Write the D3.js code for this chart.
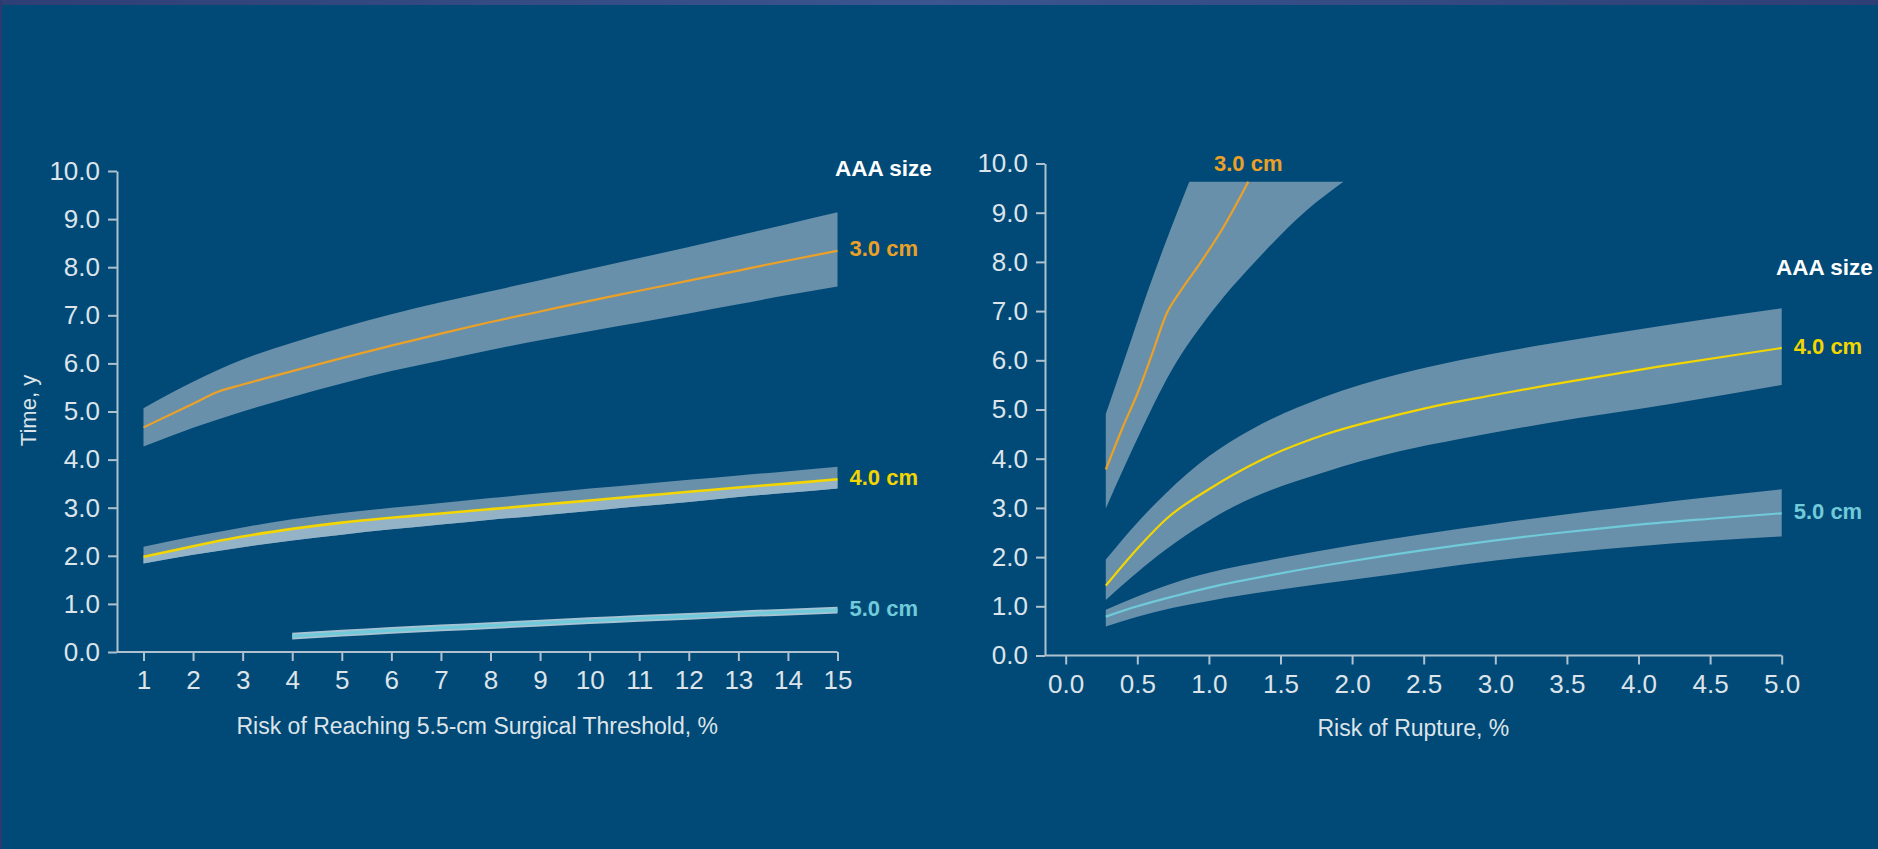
<!DOCTYPE html>
<html>
<head>
<meta charset="utf-8">
<script src="https://cdn.jsdelivr.net/npm/d3@7"></script>
<style>
  html, body { margin: 0; padding: 0; background: #014a77; overflow: hidden; }
  svg { display: block; }
  text { font-family: "Liberation Sans", Arial, Helvetica, sans-serif; }
</style>
</head>
<body>
<svg id="chart" width="1878" height="849"></svg>
<script>
// ---- tick values ----
const yTicks = [0, 1, 2, 3, 4, 5, 6, 7, 8, 9, 10];
const thresholdTicks = [1, 2, 3, 4, 5, 6, 7, 8, 9, 10, 11, 12, 13, 14, 15];
const ruptureTicks = [0, 0.5, 1, 1.5, 2, 2.5, 3, 3.5, 4, 4.5, 5];

// ---- left panel: time (y) vs risk of reaching the 5.5-cm surgical threshold (%) ----
const thr30X   = [1, 2, 2.5, 3, 4, 5, 6, 7, 8, 9, 10, 11, 12, 13, 14, 15];
const thr30Mid = [4.67, 5.16, 5.41, 5.56, 5.84, 6.11, 6.37, 6.62, 6.86, 7.08, 7.30, 7.51, 7.72, 7.93, 8.14, 8.34];
const thr30BandX = [1, 2, 3, 4, 5, 6, 7, 8, 9, 10, 11, 12, 13, 14, 15];
const thr30Up  = [5.07, 5.62, 6.08, 6.43, 6.74, 7.02, 7.27, 7.50, 7.73, 7.96, 8.19, 8.42, 8.66, 8.90, 9.14];
const thr30Lo  = [4.27, 4.66, 5.00, 5.30, 5.58, 5.84, 6.06, 6.28, 6.48, 6.67, 6.85, 7.04, 7.23, 7.42, 7.60];

const thr40X   = [1, 2, 3, 4, 5, 6, 7, 8, 9, 10, 11, 12, 13, 14, 15];
const thr40Mid = [1.98, 2.20, 2.40, 2.56, 2.69, 2.79, 2.88, 2.97, 3.06, 3.15, 3.24, 3.33, 3.42, 3.50, 3.59];
const thr40Up  = [2.19, 2.40, 2.59, 2.76, 2.89, 3.00, 3.10, 3.20, 3.30, 3.40, 3.49, 3.58, 3.67, 3.76, 3.85];
const thr40Lo  = [1.84, 2.02, 2.18, 2.32, 2.44, 2.55, 2.65, 2.75, 2.84, 2.93, 3.03, 3.12, 3.22, 3.31, 3.40];

const thr50X   = [4, 5, 6, 7, 8, 9, 10, 11, 12, 13, 14, 15];
const thr50Mid = [0.33, 0.39, 0.45, 0.50, 0.55, 0.60, 0.65, 0.70, 0.74, 0.79, 0.83, 0.87];
const thr50Up  = [0.40, 0.46, 0.52, 0.57, 0.62, 0.67, 0.72, 0.77, 0.81, 0.86, 0.90, 0.94];
const thr50Lo  = [0.26, 0.32, 0.38, 0.43, 0.48, 0.53, 0.58, 0.63, 0.67, 0.72, 0.76, 0.80];

// ---- right panel: time (y) vs risk of rupture (%) ----
const rup30MidX = [0.28, 0.40, 0.50, 0.60, 0.705, 0.80, 0.94, 1.10, 1.275];
const rup30Mid  = [3.78, 4.65, 5.32, 6.10, 6.95, 7.40, 7.98, 8.70, 9.63];
const rup30UpX  = [0.28, 0.426, 0.566, 0.705, 0.863];
const rup30Up   = [4.91, 6.15, 7.35, 8.45, 9.63];
const rup30LoX  = [0.28, 0.519, 0.729, 1.03, 1.357, 1.683, 1.939];
const rup30Lo   = [2.99, 4.52, 5.74, 7.02, 8.11, 9.05, 9.63];

const rup40MidX = [0.28, 0.50, 0.708, 1.0, 1.362, 1.80, 2.33, 2.58, 3.0, 3.36, 4.14, 5.0];
const rup40Mid  = [1.42, 2.17, 2.79, 3.38, 3.97, 4.48, 4.90, 5.07, 5.30, 5.49, 5.87, 6.25];
const rup40UpX  = [0.28, 0.50, 0.70, 1.0, 1.30, 1.80, 2.33, 2.75, 3.30, 4.20, 5.0];
const rup40Up   = [1.95, 2.70, 3.30, 4.05, 4.60, 5.25, 5.72, 6.00, 6.30, 6.72, 7.06];
const rup40LoX  = [0.28, 0.635, 1.175, 1.80, 2.33, 2.75, 3.36, 4.20, 5.0];
const rup40Lo   = [1.13, 2.01, 3.03, 3.72, 4.15, 4.40, 4.72, 5.10, 5.50];

const rup50X    = [0.28, 0.5, 0.75, 1.0, 1.5, 2.0, 2.5, 3.0, 3.5, 4.0, 4.5, 5.0];
const rup50Mid  = [0.79, 1.00, 1.20, 1.38, 1.67, 1.92, 2.14, 2.34, 2.51, 2.66, 2.78, 2.89];
const rup50Up   = [0.93, 1.20, 1.47, 1.68, 1.98, 2.24, 2.47, 2.68, 2.87, 3.05, 3.22, 3.38];
const rup50Lo   = [0.59, 0.79, 0.97, 1.11, 1.34, 1.54, 1.74, 1.93, 2.09, 2.22, 2.33, 2.42];

// ---- palette ----
const BG = "#014a77";
const BAND = "#6890ab";
const BAND_LIGHT = "#95b3c7";
const BAND_PALE = "#a8c4d4";
const ORANGE = "#eba127";
const YELLOW = "#f3d500";
const CYAN = "#70cad9";
const AXIS = "#afc1cf";
const TEXT = "#dde4ea";

const zip = (xs, ys) => xs.map((x, i) => [x, ys[i]]);

const svg = d3.select("#chart");
svg.append("rect").attr("width", 1878).attr("height", 849).attr("fill", BG);

// frame trim along the top and left edges
const defs = svg.append("defs");
const grad = defs.append("linearGradient").attr("id", "topTrim");
grad.append("stop").attr("offset", "0%").attr("stop-color", "#2e3f75");
grad.append("stop").attr("offset", "50%").attr("stop-color", "#3a5590");
grad.append("stop").attr("offset", "100%").attr("stop-color", "#2e3f75");
svg.append("rect").attr("x", 0).attr("y", 0).attr("width", 1878).attr("height", 5).attr("fill", "url(#topTrim)");
svg.append("rect").attr("x", 0).attr("y", 0).attr("width", 2).attr("height", 849).attr("fill", "#2d3a70");

const panels = [
  {
    xDomain: [1, 15], xRange: [143.5, 837.5], yRange: [652, 171], axisX: 117,
    xTicks: thresholdTicks, xFormat: d3.format("d"),
    xTitle: "Risk of Reaching 5.5-cm Surgical Threshold, %", xTitleY: 734,
    yTitle: "Time, y",
    sizeTitle: { x: 835, y: 176 },
    series: [
      { label: "3.0 cm", color: ORANGE, width: 2.2,
        up: zip(thr30BandX, thr30Up), lo: zip(thr30BandX, thr30Lo), mid: zip(thr30X, thr30Mid),
        fill: BAND, labelAt: "end" },
      { label: "4.0 cm", color: YELLOW, width: 2.6,
        up: zip(thr40X, thr40Up), lo: zip(thr40X, thr40Lo), mid: zip(thr40X, thr40Mid),
        fill: BAND, lowerFill: BAND_LIGHT, labelAt: "end" },
      { label: "5.0 cm", color: CYAN, width: 3.2,
        up: zip(thr50X, thr50Up), lo: zip(thr50X, thr50Lo), mid: zip(thr50X, thr50Mid),
        fill: BAND_PALE, labelAt: "end" }
    ]
  },
  {
    xDomain: [0, 5], xRange: [1065.7, 1781.7], yRange: [655.5, 163.5], axisX: 1045,
    xTicks: ruptureTicks, xFormat: d3.format(".1f"),
    xTitle: "Risk of Rupture, %", xTitleY: 736,
    yTitle: null,
    sizeTitle: { x: 1776, y: 275 },
    series: [
      { label: "3.0 cm", color: ORANGE, width: 2.2,
        up: zip(rup30UpX, rup30Up), lo: zip(rup30LoX, rup30Lo), mid: zip(rup30MidX, rup30Mid),
        fill: BAND, labelAt: "top" },
      { label: "4.0 cm", color: YELLOW, width: 2.2,
        up: zip(rup40UpX, rup40Up), lo: zip(rup40LoX, rup40Lo), mid: zip(rup40MidX, rup40Mid),
        fill: BAND, labelAt: "end" },
      { label: "5.0 cm", color: CYAN, width: 2.2,
        up: zip(rup50X, rup50Up), lo: zip(rup50X, rup50Lo), mid: zip(rup50X, rup50Mid),
        fill: BAND, labelAt: "end" }
    ]
  }
];

panels.forEach(p => {
  const x = d3.scaleLinear().domain(p.xDomain).range(p.xRange);
  const y = d3.scaleLinear().domain([0, 10]).range(p.yRange);
  const line = d3.line().x(d => x(d[0])).y(d => y(d[1])).curve(d3.curveMonotoneX);

  // closed band from an upper edge and a lower edge with their own x samples
  const bandPath = (upper, lower) => {
    const a = line(upper);
    const b = line(lower.slice().reverse());
    return a + "L" + b.slice(1) + "Z";
  };

  const g = svg.append("g");

  p.series.forEach(s => {
    g.append("path").attr("d", bandPath(s.up, s.lo)).attr("fill", s.fill);
    if (s.lowerFill) {
      g.append("path").attr("d", bandPath(s.mid, s.lo)).attr("fill", s.lowerFill);
    }
  });
  p.series.forEach(s => {
    g.append("path").attr("d", line(s.mid))
      .attr("fill", "none").attr("stroke", s.color)
      .attr("stroke-width", s.width).attr("stroke-linejoin", "round");
  });

  // series labels
  p.series.forEach(s => {
    const last = s.mid[s.mid.length - 1];
    if (s.labelAt === "end") {
      g.append("text")
        .attr("x", x(last[0]) + 12).attr("y", y(last[1]) - 2)
        .attr("dominant-baseline", "central")
        .attr("fill", s.color).attr("font-size", 22).attr("font-weight", "bold")
        .text(s.label);
    } else {
      g.append("text")
        .attr("x", x(last[0])).attr("y", y(10) + 7.5)
        .attr("text-anchor", "middle")
        .attr("fill", s.color).attr("font-size", 22).attr("font-weight", "bold")
        .text(s.label);
    }
  });

  g.append("text")
    .attr("x", p.sizeTitle.x).attr("y", p.sizeTitle.y)
    .attr("fill", "#ffffff").attr("font-size", 22.5).attr("font-weight", "bold")
    .text("AAA size");

  // y axis
  const yAxis = g.append("g")
    .attr("transform", `translate(${p.axisX},0)`)
    .call(d3.axisLeft(y).tickValues(yTicks).tickFormat(d3.format(".1f"))
      .tickSize(9).tickSizeOuter(0).tickPadding(8));

  // x axis
  const base = y(0);
  const xAxis = g.append("g")
    .attr("transform", `translate(0,${base})`)
    .call(d3.axisBottom(x).tickValues(p.xTicks).tickFormat(p.xFormat)
      .tickSize(9).tickSizeOuter(0).tickPadding(10));
  xAxis.select(".domain").remove();
  g.append("line")
    .attr("x1", p.axisX).attr("x2", p.xRange[1])
    .attr("y1", base).attr("y2", base)
    .attr("stroke", AXIS).attr("stroke-width", 2);

  [yAxis, xAxis].forEach(ax => {
    ax.selectAll(".domain").attr("stroke", AXIS).attr("stroke-width", 2);
    ax.selectAll(".tick line").attr("stroke", AXIS).attr("stroke-width", 2);
    ax.selectAll(".tick text")
      .attr("fill", TEXT).attr("font-size", 26)
      .attr("font-family", "'Liberation Sans', Arial, sans-serif");
  });

  g.append("text")
    .attr("x", (p.axisX + p.xRange[1]) / 2).attr("y", p.xTitleY)
    .attr("text-anchor", "middle")
    .attr("fill", TEXT).attr("font-size", 23)
    .text(p.xTitle);

  if (p.yTitle) {
    g.append("text")
      .attr("transform", `translate(36,${(p.yRange[0] + p.yRange[1]) / 2 - 1}) rotate(-90)`)
      .attr("text-anchor", "middle")
      .attr("fill", TEXT).attr("font-size", 22)
      .text(p.yTitle);
  }
});
</script>
</body>
</html>
